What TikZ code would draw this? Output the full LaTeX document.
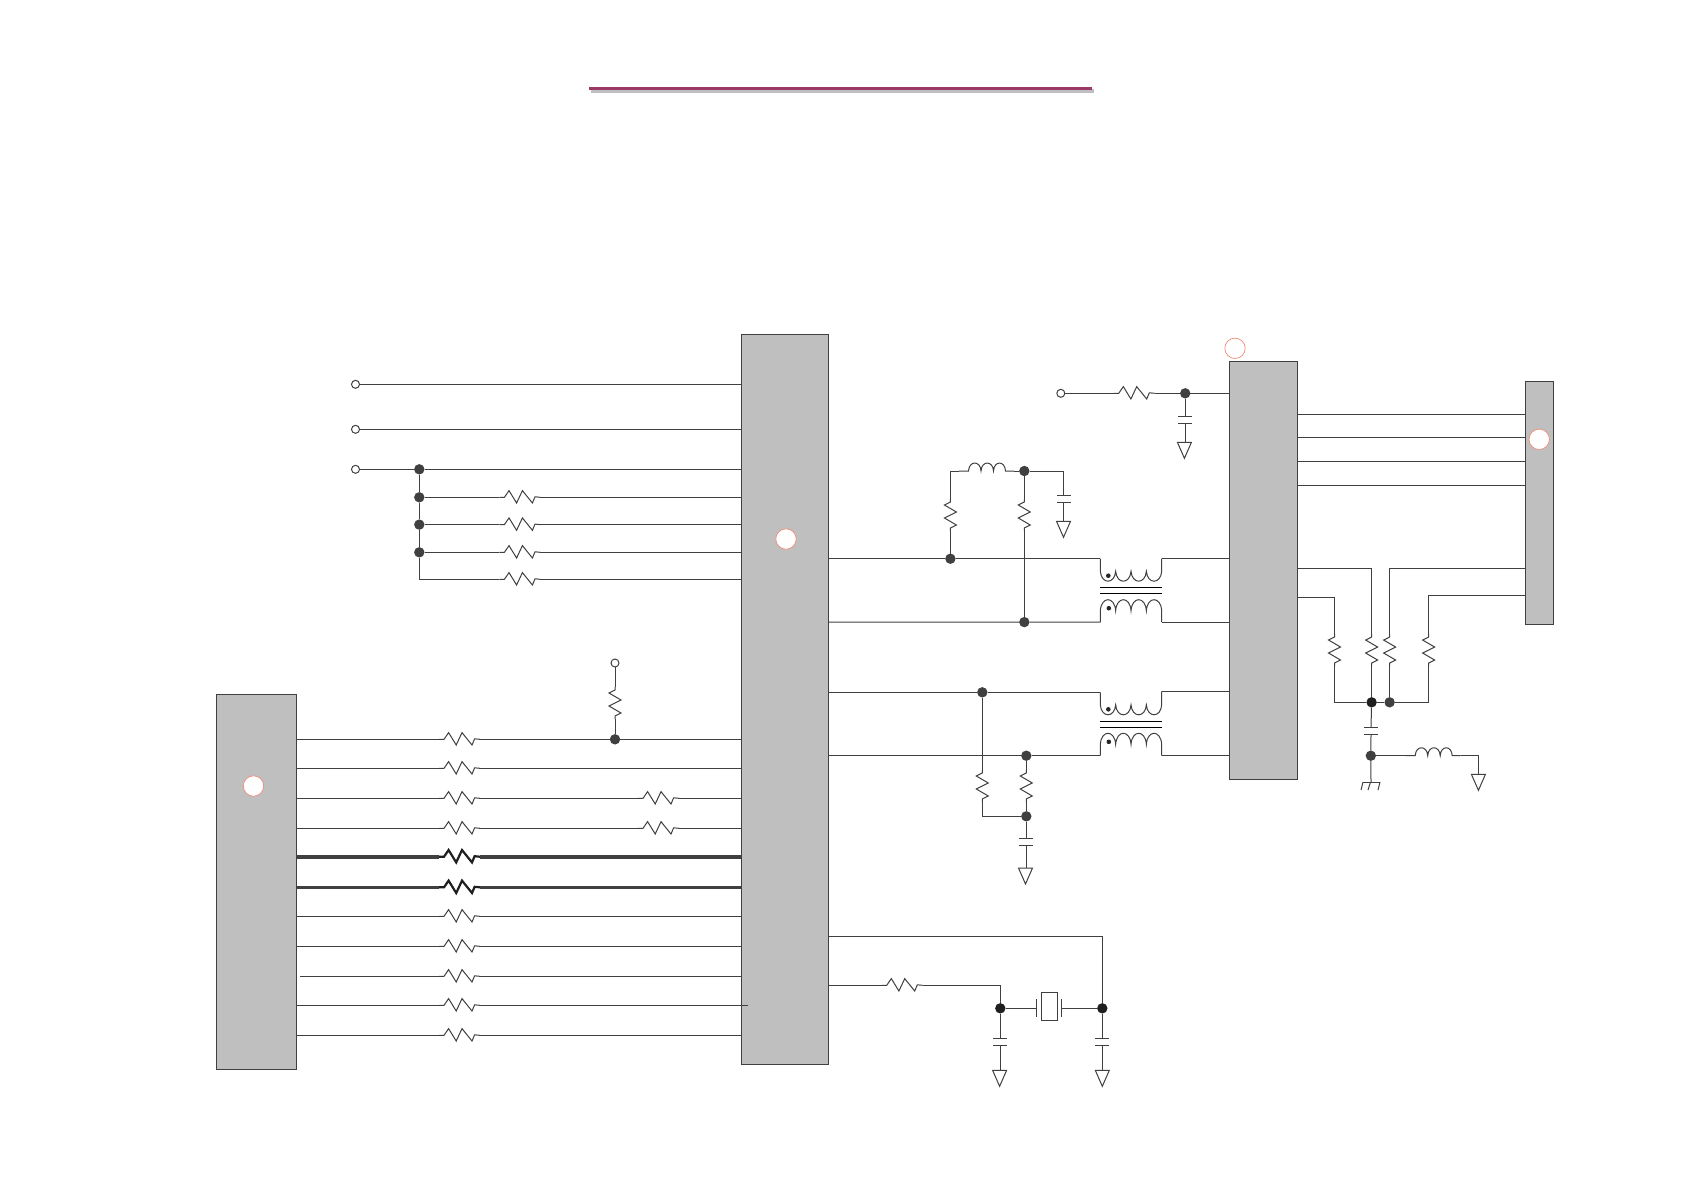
\documentclass[tikz,border=0pt]{standalone}
\usetikzlibrary{calc}
\definecolor{wire}{HTML}{404040}
\definecolor{chipfill}{HTML}{BFBFBF}
\definecolor{markring}{HTML}{F08C78}
\definecolor{barcol}{HTML}{9B3A68}
\tikzset{
  chip/.style={draw=wire,fill=chipfill,rectangle,inner sep=0pt,outer sep=0pt},
  ring/.style={circle,draw=markring,line width=0.35pt,minimum size=10.2pt,inner sep=0pt},
  term/.style={circle,draw=wire,fill=white,minimum size=4pt,inner sep=0pt,outer sep=0pt},
  dot/.style={circle,fill=wire,minimum size=5.2pt,inner sep=0pt,outer sep=0pt},
  blackdot/.style={dot,fill=black!88},
  resh/.pic={
    \draw (0,0)--(5,0)--(9.6,-6.7)--(17.2,5.7)--(23,-6.7)--(33,5.7)--(35.6,-0.5)--(41,0);
    \coordinate (-in) at (0,0); \coordinate (-out) at (41,0);
  },
  resv/.pic={
    \draw (0,0)--(3,0)--(6,6)--(13,-6)--(19,6)--(26,-6)--(29,0)--(32,0);
    \coordinate (-in) at (0,0); \coordinate (-out) at (32,0);
  },
  ind/.pic={
    \draw (0,0)--(9.5,0) .. controls (10,-10.6) and (21.5,-10.6) .. (22,0)
      .. controls (22.5,-10.6) and (34,-10.6) .. (34.5,0)
      .. controls (35,-10.6) and (46,-10.6) .. (46.5,0)--(55,0);
    \coordinate (-in) at (0,0); \coordinate (-out) at (55,0);
  },
  capp/.pic={
    \draw (-7,0)--(7,0) (-7,7)--(7,7);
    \coordinate (-top) at (0,0); \coordinate (-bot) at (0,7);
  },
  gnd/.pic={
    \draw (-7,0)--(7,0)--(0,16)--cycle;
    \coordinate (-top) at (0,0);
  },
  xfmr/.pic={
    \draw (0,0)--(0,12.5)
      .. controls (1,25.8) and (14.35,25.8) .. (15.35,12.5)
      .. controls (16.35,25.8) and (29.7,25.8) .. (30.7,12.5)
      .. controls (31.7,25.8) and (45.05,25.8) .. (46.05,12.5)
      .. controls (47.05,25.8) and (60.4,25.8) .. (61.4,12.5)--(61.4,#1);
    \draw (0,63.4)--(0,52)
      .. controls (1,37.3) and (14.35,37.3) .. (15.35,52)
      .. controls (16.35,37.3) and (29.7,37.3) .. (30.7,52)
      .. controls (31.7,37.3) and (45.05,37.3) .. (46.05,52)
      .. controls (47.05,37.3) and (60.4,37.3) .. (61.4,52)--(61.4,63.4);
    \draw[black] (-0.5,29)--(62,29) (-0.5,35)--(62,35);
    \fill[black!85] (8,17) circle[radius=2.3];
    \fill[black!85] (8.5,49.5) circle[radius=2.3];
    \coordinate (-tl) at (0,0); \coordinate (-tr) at (61.4,#1);
    \coordinate (-bl) at (0,63.4); \coordinate (-br) at (61.4,63.4);
  },
}
\begin{document}
\begin{tikzpicture}[x=0.5pt,y=-0.5pt,color=wire,line width=0.5pt,line join=miter]
\path[use as bounding box,fill=white] (0,0) rectangle (1684,1190);
% title bar
\fill[chipfill] (591,88.5) rectangle (1094,92.5);
\fill[barcol] (589,86.7) rectangle (1092,90.3);
% chips
\node[chip,minimum width=43.5pt,minimum height=364.85pt] (chipC) at (785,699.15) {};
\node[chip,minimum width=40.15pt,minimum height=187.5pt] (chipL) at (256.55,881.8) {};
\node[chip,minimum width=34.35pt,minimum height=209pt] (chipR) at (1263.35,570) {};
\node[chip,minimum width=14.2pt,minimum height=121.5pt] (chipF) at (1539.6,502.8) {};
\node[ring,fill=white] (markC) at (786,539) {};
\node[ring,fill=white] (markL) at (253.5,786) {};
\node[ring,fill=white] (markF) at (1539.2,439.3) {};
\node[ring] (markR) at (1235,348.3) {};
% column guides
\coordinate (colA) at (499.4,0);
\coordinate (colB) at (439,0);
\coordinate (colC) at (638,0);
\coordinate (colD) at (300,0);
\coordinate (colE) at (747.5,0);
\coordinate (colF) at (615,0);
% top-left inputs
\node[term] (t1) at (355.5,384.3) {};
\node[term] (t2) at (355.5,429.3) {};
\node[term] (t3) at (355.5,469.3) {};
\node[dot] (j1) at (419.3,469.3) {};
\node[dot] (j2) at (419.3,497.3) {};
\node[dot] (j3) at (419.3,524.6) {};
\node[dot] (j4) at (419.3,552.3) {};
\coordinate (j5) at (419.3,579.3);
\draw (t1) -- (t1 -| chipC.west);
\draw (t2) -- (t2 -| chipC.west);
\draw (t3) -- (j1) -- (j1 -| chipC.west);
\draw (j1) -- (j2) -- (j3) -- (j4) -- (j5);
\foreach \n/\s in {j2/a2,j3/a3,j4/a4,j5/a5}{
  \pic (\s) at (\n -| colA) {resh};
  \draw (\n) -- (\s-in);
  \draw (\s-out) -- (\s-out -| chipC.west);
}
% left bus
\foreach \i/\y in {1/739.3,2/768.3,3/798.3,4/828.3,5/856.7,6/887.3,7/916.3,8/946.3,9/976.3,10/1005.3,11/1035.3}{
  \coordinate (row\i) at (0,\y);
}
\foreach \i in {1,2,3,4,7,8,9,10,11}{
  \pic (r\i) at (colB |- row\i) {resh};
}
\pic[line width=1.1pt,color=black!88] (r5) at (colB |- row5) {resh};
\pic[line width=1.1pt,color=black!88] (r6) at (colB |- row6) {resh};
\pic (q3) at (colC |- row3) {resh};
\pic (q4) at (colC |- row4) {resh};
\foreach \i in {1,2,3,4,7,8,10,11}{
  \draw (chipL.east |- row\i) -- (r\i-in);
}
\coordinate (row9start) at (colD |- row9);
\draw (row9start) -- (r9-in);
\node[term] (t5) at (615,663) {};
\node[dot] (j6) at (colF |- row1) {};
\pic[rotate=-90] (rv1) at (615,687) {resv};
\draw (t5) -- (rv1-in);
\draw (rv1-out) -- (j6);
\draw (r1-out) -- (j6) -- (j6 -| chipC.west);
\foreach \i in {2,7,8,9,11}{
  \draw (r\i-out) -- (r\i-out -| chipC.west);
}
\coordinate (row10end) at (colE |- row10);
\draw (r10-out) -- (row10end);
\foreach \i in {3,4}{
  \draw (r\i-out) -- (q\i-in);
  \draw (q\i-out) -- (q\i-out -| chipC.west);
}
\draw[line width=2pt] (chipL.east |- row5) -- (r5-in);
\draw[line width=2pt] (r5-out) -- (r5-out -| chipC.west);
\draw[line width=1.5pt] (chipL.east |- row6) -- (r6-in);
\draw[line width=1.5pt] (r6-out) -- (r6-out -| chipC.west);
% first transformer network
\pic (T1) at (1100.3,558.7) {xfmr=0};
\node[dot] (d1) at (950.4,558.7) {};
\node[dot] (d2) at (1024.3,622.1) {};
\node[dot] (d3) at (1024.3,471) {};
\coordinate (c1) at (950.4,471);
\pic[rotate=-90] (rA) at (950.4,499) {resv};
\pic[rotate=-90] (rB) at (1024.3,499) {resv};
\pic (LA) at (959,471) {ind};
\coordinate (c2) at (1063.5,471);
\pic (CA) at (1063.5,495) {capp};
\pic (GA) at (1063.5,521.3) {gnd};
\draw (d1 -| chipC.east) -- (d1) -- (T1-tl);
\draw (d2 -| chipC.east) -- (d2) -- (T1-bl);
\draw (d1) -- (rA-out);
\draw (rA-in) -- (c1) -- (LA-in);
\draw (LA-out) -- (d3);
\draw (d3) -- (rB-in);
\draw (rB-out) -- (d2);
\draw (d3) -- (c2) -- (CA-top);
\draw (CA-bot) -- (GA-top);
\draw (T1-tr) -- (T1-tr -| chipR.west);
\draw (T1-br) -- (T1-br -| chipR.west);
% second transformer network
\pic (T2) at (1100.3,692.3) {xfmr=-1};
\node[dot] (d4) at (982.3,692.3) {};
\node[dot] (d5) at (1026.3,755.7) {};
\node[dot] (d6) at (1026.3,816.3) {};
\coordinate (c6) at (982.3,816.3);
\pic[rotate=-90] (rC) at (982.3,770) {resv};
\pic[rotate=-90] (rD) at (1026.3,770) {resv};
\pic (CB) at (1026.3,838.3) {capp};
\pic (GB) at (1025.5,868) {gnd};
\draw (d4 -| chipC.east) -- (d4) -- (T2-tl);
\draw (d5 -| chipC.east) -- (d5) -- (T2-bl);
\draw (d4) -- (rC-in);
\draw (rC-out) -- (c6) -- (d6);
\draw (d5) -- (rD-in);
\draw (rD-out) -- (d6);
\draw (d6) -- (CB-top);
\draw (CB-bot) -- (CB-bot |- GB-top);
\draw (T2-tr) -- (T2-tr -| chipR.west);
\draw (T2-br) -- (T2-br -| chipR.west);
% crystal network
\node[blackdot] (d7) at (1000.3,1008.3) {};
\node[blackdot] (d8) at (1102.3,1008.3) {};
\coordinate (c7) at (1000.3,985.3);
\coordinate (c8) at (1102.3,936.3);
\pic (rX) at (881.7,985.3) {resh};
\node[draw,rectangle,minimum width=8.2pt,minimum height=14.2pt,inner sep=0pt,line width=0.5pt] (xtal) at (1049.5,1006.5) {};
\coordinate (pl) at (1036.7,1008.3);
\coordinate (pr) at (1061.3,1008.3);
\draw ($(pl)+(0,-9)$) -- ($(pl)+(0,9)$);
\draw ($(pr)+(0,-9)$) -- ($(pr)+(0,9)$);
\draw (d7) -- (pl);
\draw (pr) -- (d8);
\draw (c7 -| chipC.east) -- (rX-in);
\draw (rX-out) -- (c7) -- (d7);
\draw (c8 -| chipC.east) -- (c8) -- (d8);
\pic (CC) at (1000.3,1038.3) {capp};
\pic (CD) at (1102.3,1038.3) {capp};
\pic (GC) at (999.6,1070.3) {gnd};
\pic (GD) at (1102.3,1070.3) {gnd};
\draw (d7) -- (CC-top);
\draw (d8) -- (CD-top);
\draw (CC-bot) -- (CC-bot |- GC-top);
\draw (CD-bot) -- (GD-top);
% supply into right chip
\node[term] (t4) at (1060.8,393.3) {};
\node[dot] (d9) at (1185.2,393.3) {};
\pic (rS) at (1113.7,393.3) {resh};
\pic (CE) at (1185.2,416.3) {capp};
\pic (GE) at (1184.4,442.3) {gnd};
\draw (t4) -- (rS-in);
\draw (rS-out) -- (d9) -- (d9 -| chipR.west);
\draw (d9) -- (CE-top);
\draw (CE-bot) -- (CE-bot |- GE-top);
% bus to far-right connector
\foreach \y [count=\k] in {414.3,437.3,461.3,485.3}{
  \coordinate (b\k) at (0,\y);
  \draw (chipR.east |- b\k) -- (chipF.west |- b\k);
}
% termination network
\node[blackdot] (d10) at (1371.6,702.3) {};
\node[dot] (d11) at (1389.6,702.3) {};
\node[dot] (d12) at (1370.8,755.7) {};
\coordinate (e1) at (1371.6,568.3);
\coordinate (e2) at (1334.5,597.3);
\coordinate (e3) at (1334.5,702.3);
\coordinate (e4) at (1389.6,568.3);
\coordinate (e5) at (1428.6,595.3);
\coordinate (e6) at (1428.6,702.3);
\pic[rotate=-90] (rP) at (1371.6,634) {resv};
\pic[rotate=-90] (rQ) at (1334.5,634) {resv};
\pic[rotate=-90] (rU) at (1389.6,634) {resv};
\pic[rotate=-90] (rV) at (1428.6,634) {resv};
\draw (e1 -| chipR.east) -- (e1) -- (rP-in);
\draw (rP-out) -- (d10);
\draw (e2 -| chipR.east) -- (e2) -- (rQ-in);
\draw (rQ-out) -- (e3) -- (d10);
\draw (e4 -| chipF.west) -- (e4) -- (rU-in);
\draw (rU-out) -- (d11);
\draw (e5 -| chipF.west) -- (e5) -- (rV-in);
\draw (rV-out) -- (e6) -- (d11);
\draw (d10) -- (d11);
\pic (CF) at (1371,727.3) {capp};
\draw (d10) -- (CF-top);
\draw (CF-bot) -- (d12);
\coordinate (chas) at (1371,782);
\draw (d12) -- (chas);
\draw (1363,782) -- (1380,782);
\draw (1363,782) -- (1361,790) (1370.5,782) -- (1368,790) (1380,782) -- (1378,790);
\pic (LB) at (1405.7,755.7) {ind};
\coordinate (c9) at (1478.4,755.7);
\pic (GF) at (1478.4,774.3) {gnd};
\draw (d12) -- (LB-in);
\draw (LB-out) -- (c9) -- (GF-top);
\end{tikzpicture}
\end{document}
